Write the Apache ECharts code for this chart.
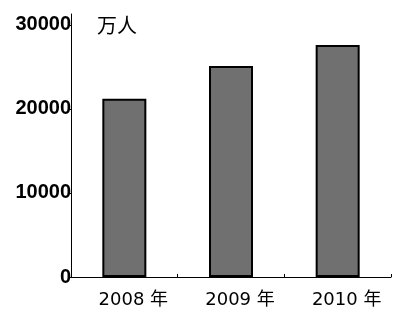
<!DOCTYPE html>
<html>
<head>
<meta charset="utf-8">
<script src="https://cdn.jsdelivr.net/npm/echarts@6/dist/echarts.min.js"></script>
<style>
html,body{margin:0;padding:0;background:#fff;}
#c{width:397px;height:314px;}
</style>
</head>
<body>
<div id="c"></div>
<script>
var categories = ['2008 年', '2009 年', '2010 年'];
var values = [21200, 25100, 27600];
var unitName = '万人';
var yMin = 0;
var yMax = 31300;
var yInterval = 10000;

var chart = echarts.init(document.getElementById('c'), null, {renderer: 'canvas'});
chart.setOption({
  animation: false,
  backgroundColor: '#ffffff',
  grid: {left: 71, right: 6, top: 14, bottom: 37, containLabel: false},
  xAxis: {
    type: 'category',
    data: categories,
    boundaryGap: true,
    axisLine: {show: true, lineStyle: {color: '#000', width: 1}},
    axisTick: {show: true, inside: true, length: 3, lineStyle: {color: '#000'}},
    axisLabel: {
      color: '#000', fontSize: 18, margin: 14,
      fontFamily: '"DejaVu Sans", "Noto Sans CJK SC", sans-serif',
      padding: [0, 0, 0, 18]
    },
    splitLine: {show: false}
  },
  yAxis: {
    type: 'value',
    min: yMin,
    max: yMax,
    interval: yInterval,
    name: unitName,
    nameLocation: 'end',
    nameGap: -11,
    nameTextStyle: {
      color: '#000', fontSize: 20, fontWeight: 'normal',
      fontFamily: '"Noto Sans CJK SC", sans-serif',
      align: 'left', verticalAlign: 'middle',
      padding: [0, 0, 0, 26]
    },
    axisLine: {show: true, lineStyle: {color: '#000', width: 1}},
    axisTick: {show: true, length: 3, lineStyle: {color: '#000'}},
    axisLabel: {
      color: '#000', fontSize: 20, fontWeight: 'bold', margin: 0,
      fontFamily: '"Liberation Sans", Arial, sans-serif',
      showMaxLabel: false,
      padding: [0, 0, 3, 0],
      formatter: function (v) { return String(v); }
    },
    splitLine: {show: false}
  },
  series: [{
    type: 'bar',
    data: values,
    barWidth: 44,
    itemStyle: {color: '#707070', borderColor: '#000', borderWidth: 2}
  }]
});
</script>
</body>
</html>
